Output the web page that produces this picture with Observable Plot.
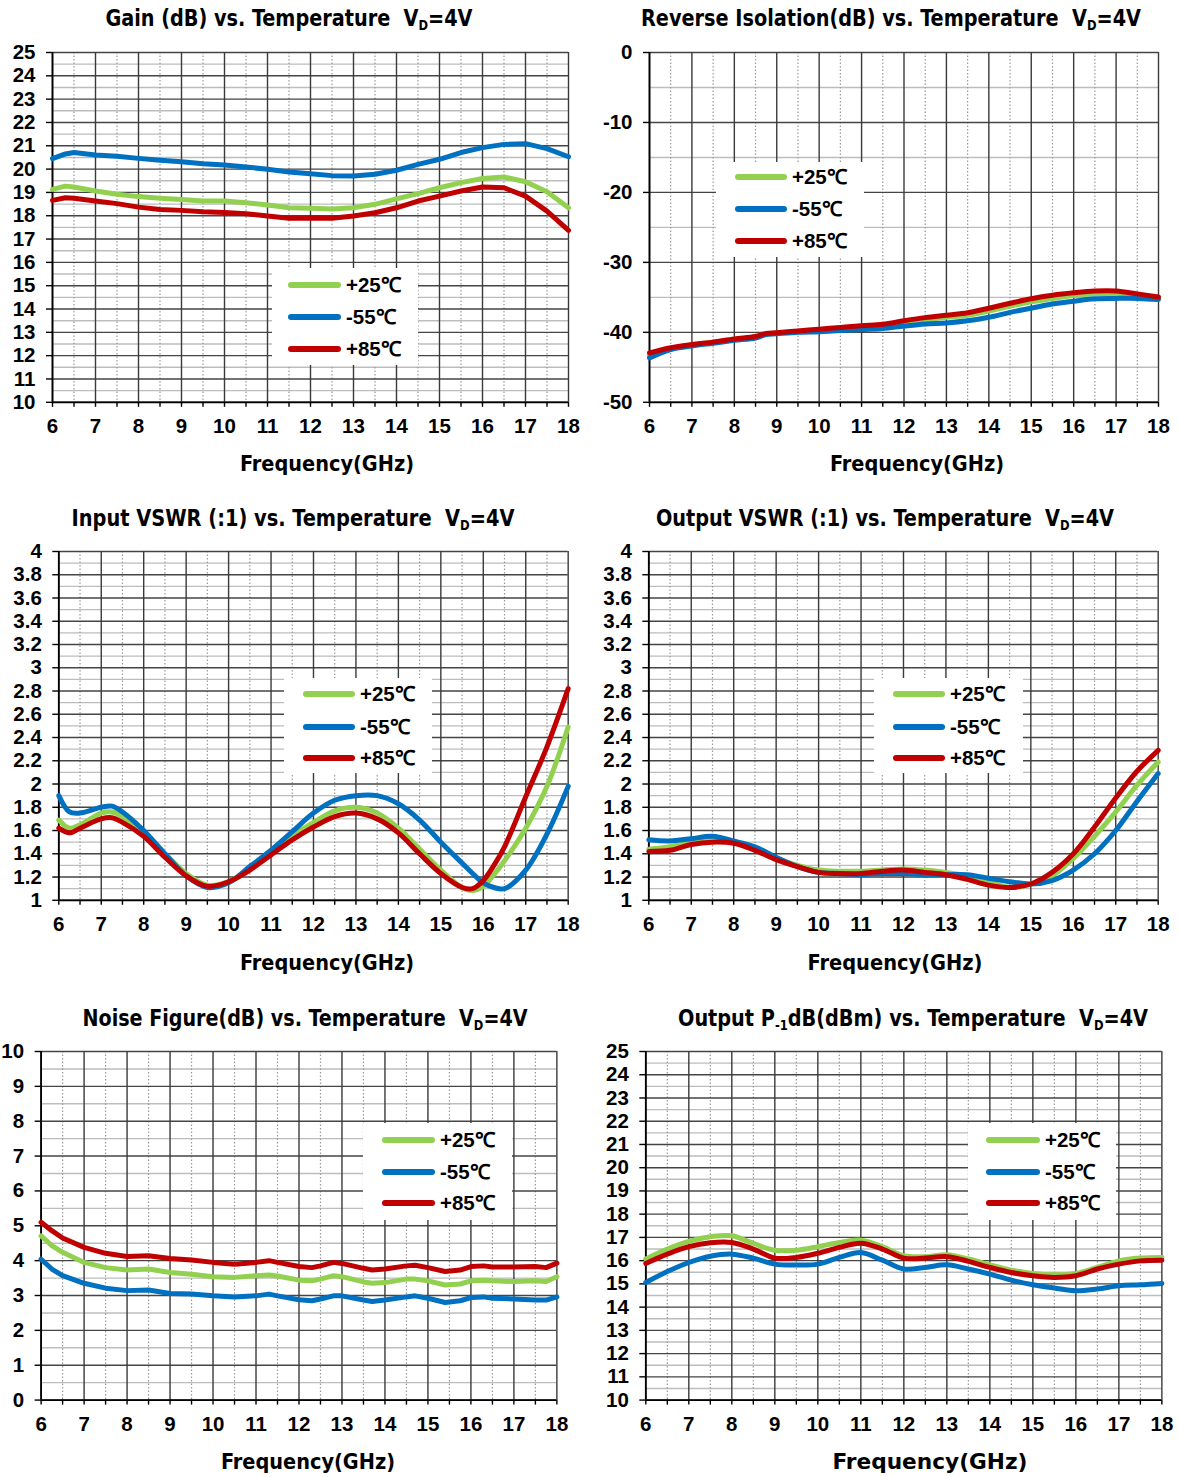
<!DOCTYPE html>
<html><head><meta charset="utf-8">
<script src="https://cdn.jsdelivr.net/npm/d3@7"></script>
<script src="https://cdn.jsdelivr.net/npm/@observablehq/plot@0.6"></script>
<style>
body{margin:0;background:#fff}
#root{position:relative;width:1179px;height:1477px;overflow:hidden;background:#fff}
.ttl{position:absolute;font-family:"DejaVu Sans Condensed","DejaVu Sans",sans-serif;font-weight:bold;white-space:nowrap;color:#000;line-height:1;transform-origin:50% 50%}
.sub{font-size:0.6em;vertical-align:-0.3em}
.leg{position:absolute;background:#fff}
.legline{position:absolute;height:6px;border-radius:3px}
.legtxt{position:absolute;font-family:"Liberation Sans",Arial,sans-serif;font-weight:700;font-size:20.5px;line-height:1;white-space:nowrap;transform:translateY(-50%);color:#000}
</style></head><body><div id="root"></div>
<script>
// ---------- shared ----------
const seriesLabels = ["+25℃", "-55℃", "+85℃"];
const seriesColors = ["#92D050", "#0070C0", "#C00000"];
const freqTicks = [6,7,8,9,10,11,12,13,14,15,16,17,18];
const freqMinor = [6.5,7.5,8.5,9.5,10.5,11.5,12.5,13.5,14.5,15.5,16.5,17.5];

// ---------- Gain ----------
const gainFreq = [6,6.3,6.5,7,7.5,8,8.5,9,9.5,10,10.5,11,11.5,12,12.5,13,13.5,14,14.5,15,15.5,16,16.5,17,17.5,18];
const gain25  = [19.13,19.27,19.23,19.06,18.92,18.82,18.75,18.70,18.63,18.63,18.56,18.46,18.34,18.32,18.29,18.34,18.49,18.72,18.95,19.20,19.42,19.60,19.66,19.46,19.03,18.34];
const gainM55 = [20.45,20.65,20.71,20.60,20.55,20.46,20.38,20.32,20.23,20.18,20.09,19.99,19.88,19.80,19.72,19.70,19.78,19.95,20.20,20.42,20.71,20.92,21.06,21.09,20.88,20.53];
const gain85  = [18.66,18.77,18.75,18.63,18.52,18.37,18.27,18.23,18.17,18.14,18.09,17.99,17.89,17.89,17.89,17.99,18.13,18.34,18.63,18.84,19.06,19.23,19.20,18.84,18.20,17.37];
const gainYTicks = [10,11,12,13,14,15,16,17,18,19,20,21,22,23,24,25];
const gainYMinor = [10.5,11.5,12.5,13.5,14.5,15.5,16.5,17.5,18.5,19.5,20.5,21.5,22.5,23.5,24.5];

// ---------- Reverse isolation ----------
const isoFreq = [6,6.5,7,7.5,8,8.5,8.75,9,9.5,10,10.5,11,11.5,12,12.5,13,13.5,14,14.5,15,15.5,16,16.5,17,17.5,18];
const iso25  = [-43.3,-42.3,-41.8,-41.45,-41.0,-40.65,-40.2,-40.1,-39.85,-39.65,-39.45,-39.25,-39.05,-38.55,-38.2,-37.85,-37.55,-36.95,-36.25,-35.65,-35.15,-34.75,-34.5,-34.6,-34.9,-35.15];
const isoM55 = [-43.65,-42.45,-41.95,-41.55,-41.15,-40.8,-40.3,-40.2,-40.0,-39.9,-39.75,-39.6,-39.45,-39.1,-38.8,-38.65,-38.35,-37.85,-37.15,-36.55,-35.95,-35.55,-35.2,-35.15,-35.15,-35.3];
const iso85  = [-42.94,-42.2,-41.75,-41.4,-40.95,-40.6,-40.15,-40.05,-39.8,-39.55,-39.3,-39.05,-38.85,-38.35,-37.9,-37.55,-37.2,-36.55,-35.85,-35.2,-34.7,-34.35,-34.1,-34.1,-34.5,-34.95];
const isoYTicks = [-50,-40,-30,-20,-10,0];
const isoYMinor = [-45,-35,-25,-15,-5];

// ---------- Input VSWR ----------
const inFreq = [6,6.25,6.5,7,7.25,7.5,8,8.5,9,9.5,10,10.5,11,11.5,12,12.5,13,13.5,14,14.5,15,15.5,15.75,16,16.25,16.5,17,17.5,18];
const in25  = [1.69,1.62,1.65,1.75,1.76,1.72,1.57,1.40,1.23,1.13,1.16,1.27,1.40,1.55,1.67,1.77,1.80,1.75,1.62,1.44,1.26,1.11,1.085,1.12,1.22,1.34,1.62,1.98,2.49];
const inM55 = [1.90,1.76,1.75,1.80,1.81,1.76,1.60,1.40,1.21,1.11,1.15,1.29,1.43,1.59,1.75,1.86,1.90,1.90,1.83,1.69,1.50,1.32,1.23,1.15,1.11,1.10,1.26,1.57,1.98];
const in85  = [1.62,1.58,1.62,1.70,1.71,1.67,1.55,1.37,1.21,1.12,1.16,1.26,1.39,1.52,1.63,1.72,1.75,1.70,1.58,1.40,1.23,1.11,1.10,1.17,1.30,1.46,1.89,2.32,2.82];

// ---------- Output VSWR ----------
const outFreq = [6,6.5,7,7.5,8,8.5,9,9.5,10,10.5,11,11.5,12,12.5,13,13.5,14,14.5,15,15.5,16,16.5,17,17.5,18];
const out25  = [1.44,1.46,1.50,1.53,1.50,1.44,1.36,1.30,1.26,1.25,1.25,1.26,1.27,1.26,1.24,1.21,1.16,1.11,1.14,1.21,1.36,1.55,1.76,1.99,2.19];
const outM55 = [1.52,1.51,1.53,1.55,1.51,1.46,1.37,1.29,1.24,1.23,1.22,1.23,1.23,1.22,1.22,1.22,1.19,1.16,1.14,1.17,1.26,1.40,1.60,1.85,2.09];
const out85  = [1.42,1.43,1.48,1.50,1.49,1.43,1.35,1.29,1.24,1.23,1.23,1.25,1.26,1.24,1.22,1.18,1.13,1.11,1.14,1.24,1.40,1.63,1.88,2.11,2.29];
const vswrYTicks = [1,1.2,1.4,1.6,1.8,2,2.2,2.4,2.6,2.8,3,3.2,3.4,3.6,3.8,4];
const vswrYMinor = [1.1,1.3,1.5,1.7,1.9,2.1,2.3,2.5,2.7,2.9,3.1,3.3,3.5,3.7,3.9];

// ---------- Noise figure ----------
const nfFreq = [6,6.25,6.5,7,7.5,8,8.5,9,9.5,10,10.5,11,11.3,11.5,12,12.3,12.5,12.8,13,13.5,13.7,14,14.5,14.7,15,15.4,15.75,16,16.3,16.5,17,17.5,17.75,18];
const nf25  = [4.71,4.43,4.24,3.95,3.80,3.73,3.76,3.66,3.61,3.54,3.52,3.57,3.59,3.56,3.44,3.42,3.47,3.57,3.54,3.39,3.35,3.37,3.47,3.47,3.42,3.30,3.33,3.42,3.44,3.42,3.40,3.42,3.40,3.54];
const nfM55 = [4.04,3.76,3.57,3.35,3.21,3.14,3.16,3.06,3.04,2.99,2.96,2.99,3.04,2.99,2.88,2.85,2.90,2.99,2.99,2.87,2.83,2.87,2.96,2.99,2.92,2.80,2.85,2.94,2.96,2.92,2.90,2.87,2.87,2.96];
const nf85  = [5.10,4.86,4.65,4.38,4.21,4.12,4.14,4.06,4.02,3.95,3.90,3.95,4.00,3.95,3.83,3.80,3.85,3.95,3.92,3.78,3.73,3.76,3.85,3.87,3.80,3.69,3.73,3.83,3.85,3.82,3.82,3.83,3.80,3.93];
const nfYTicks = [0,1,2,3,4,5,6,7,8,9,10];
const nfYMinor = [0.5,1.5,2.5,3.5,4.5,5.5,6.5,7.5,8.5,9.5];

// ---------- Output P-1dB ----------
const pFreq = [6,6.5,7,7.5,8,8.5,9,9.5,10,10.5,11,11.5,12,12.5,13,13.5,14,14.5,15,15.5,16,16.5,17,17.5,18];
const p25  = [16.07,16.50,16.83,17.03,17.07,16.74,16.45,16.45,16.60,16.78,16.88,16.60,16.21,16.17,16.25,16.07,15.82,15.59,15.45,15.39,15.45,15.71,15.99,16.11,16.14];
const pM55 = [15.06,15.53,15.92,16.19,16.28,16.11,15.85,15.81,15.85,16.14,16.35,16.02,15.64,15.71,15.82,15.64,15.42,15.16,14.96,14.82,14.70,14.78,14.92,14.96,15.02];
const p85  = [15.88,16.28,16.60,16.77,16.78,16.50,16.11,16.14,16.32,16.57,16.75,16.50,16.11,16.11,16.17,15.97,15.71,15.49,15.35,15.28,15.35,15.64,15.85,15.99,16.02];

const titles = [
  'Gain (dB) vs. Temperature&nbsp;&nbsp;V<span class="sub">D</span>=4V',
  'Reverse Isolation(dB) vs. Temperature&nbsp;&nbsp;V<span class="sub">D</span>=4V',
  'Input VSWR (:1) vs. Temperature&nbsp;&nbsp;V<span class="sub">D</span>=4V',
  'Output VSWR (:1) vs. Temperature&nbsp;&nbsp;V<span class="sub">D</span>=4V',
  'Noise Figure(dB) vs. Temperature&nbsp;&nbsp;V<span class="sub">D</span>=4V',
  'Output P<span class="sub">-1</span>dB(dBm) vs. Temperature&nbsp;&nbsp;V<span class="sub">D</span>=4V'
];
const xAxisLabel = "Frequency(GHz)";

// ---------- layout ----------
const panels = [
  {svgLeft:0, left:52, right:568, top:51.7, bottom:401.5, yDomain:[10,25], yTicks:gainYTicks, yMinor:gainYMinor,
   freq:gainFreq, vals:[gain25,gainM55,gain85], curve:"linear",
   title:titles[0], tX:288.5, tY:20, tW:367, lX:327, lY:464, lW:174, lFs:21.5,
   leg:{box:[272,268,418,365], lx:[288,341], ys:[285,317,349], tx:346}},
  {svgLeft:590, left:649, right:1158, top:51.7, bottom:401.5, yDomain:[-50,0], yTicks:isoYTicks, yMinor:isoYMinor,
   freq:isoFreq, vals:[iso25,isoM55,iso85], curve:"catmull-rom",
   title:titles[1], tX:891, tY:20, tW:500, lX:917, lY:464, lW:174, lFs:21.5,
   leg:{box:[716,162,864,257], lx:[735,787], ys:[177,209,241], tx:792}},
  {svgLeft:0, left:58.3, right:567.7, top:551.2, bottom:900, yDomain:[1,4], yTicks:vswrYTicks, yMinor:vswrYMinor,
   freq:inFreq, vals:[in25,inM55,in85], curve:"catmull-rom",
   title:titles[2], tX:292.5, tY:520, tW:443, lX:327, lY:963, lW:174, lFs:21.5,
   leg:{box:[284,678,432,773], lx:[303,355], ys:[694,727,758], tx:360}},
  {svgLeft:590, left:648.3, right:1157.7, top:551.2, bottom:900, yDomain:[1,4], yTicks:vswrYTicks, yMinor:vswrYMinor,
   freq:outFreq, vals:[out25,outM55,out85], curve:"catmull-rom",
   title:titles[3], tX:885, tY:520, tW:458, lX:895, lY:963, lW:175, lFs:21.5,
   leg:{box:[874,678,1023,773], lx:[893,945], ys:[694,727,758], tx:950}},
  {svgLeft:0, left:40.6, right:556.4, top:1050.7, bottom:1399.3, yDomain:[0,10], yTicks:nfYTicks, yMinor:nfYMinor,
   freq:nfFreq, vals:[nf25,nfM55,nf85], curve:"linear",
   title:titles[4], tX:304.5, tY:1020, tW:445, lX:308, lY:1462, lW:174, lFs:21.5,
   leg:{box:[363,1123,512,1220], lx:[382,435], ys:[1140,1172,1203], tx:440}},
  {svgLeft:590, left:645.3, right:1161.4, top:1050.7, bottom:1399.3, yDomain:[10,25], yTicks:gainYTicks, yMinor:gainYMinor,
   freq:pFreq, vals:[p25,pM55,p85], curve:"catmull-rom",
   title:titles[5], tX:913, tY:1020, tW:470, lX:930, lY:1462, lW:195, lFs:22,
   leg:{box:[968,1123,1116,1220], lx:[986,1040], ys:[1140,1172,1203], tx:1045}}
];

const root = document.getElementById("root");

function fitText(html, cx, cy, targetW, fs) {
  const el = document.createElement("div");
  el.className = "ttl";
  el.style.fontSize = fs + "px";
  el.innerHTML = html;
  el.style.left = cx + "px";
  el.style.top = cy + "px";
  root.appendChild(el);
  const w = el.getBoundingClientRect().width;
  const s = targetW / w;
  el.style.transform = `translate(-50%,-50%) scaleX(${s})`;
  return el;
}

for (const p of panels) {
  const mL = p.left - p.svgLeft, mT = 14, mR = 16, mB = 36;
  const W = mL + (p.right - p.left) + mR;
  const H = mT + (p.bottom - p.top) + mB;
  const rows = p.vals.flatMap((arr, si) => p.freq.map((f, i) => ({f, v: arr[i], s: seriesLabels[si]})));
  const svg = Plot.plot({
    width: W, height: H,
    marginLeft: mL, marginRight: mR, marginTop: mT, marginBottom: mB,
    x: {domain: [6, 18]},
    y: {domain: p.yDomain},
    color: {domain: seriesLabels, range: seriesColors},
    style: {fontFamily: '"Liberation Sans", Arial, sans-serif', fontSize: "20.5px", fontWeight: "700", color: "#000", background: "transparent", overflow: "visible"},
    marks: [
      Plot.gridY(p.yMinor, {stroke: "#bdbdbd", strokeOpacity: 1, strokeWidth: 1.4}),
      Plot.gridX(freqMinor, {stroke: "#9a9a9a", strokeOpacity: 1, strokeWidth: 1.2, strokeDasharray: "1.5,2"}),
      Plot.gridY(p.yTicks, {stroke: "#454545", strokeOpacity: 1, strokeWidth: 1.4}),
      Plot.gridX(freqTicks, {stroke: "#3a3a3a", strokeOpacity: 1, strokeWidth: 1.4}),
      Plot.ruleX([6], {stroke: "#000", strokeWidth: 1.8}),
      Plot.ruleY([p.yDomain[0]], {stroke: "#000", strokeWidth: 1.8}),
      Plot.axisX(freqTicks.concat(freqMinor), {tickSize: 5, tickPadding: 11, label: null, strokeWidth: 1.4,
        tickFormat: d => Number.isInteger(d) ? String(d) : ""}),
      Plot.axisY(p.yTicks, {tickSize: 6, tickPadding: 11, label: null, strokeWidth: 1.4, tickFormat: d => String(d)}),
      Plot.line(rows, {x: "f", y: "v", z: "s", stroke: "s", strokeWidth: 5, curve: p.curve, strokeLinejoin: "round", strokeLinecap: "round"})
    ]
  });
  svg.style.position = "absolute";
  svg.style.left = p.svgLeft + "px";
  svg.style.top = (p.top - mT) + "px";
  root.appendChild(svg);

  // legend box overlaid on the plot area
  const [bx0, by0, bx1, by1] = p.leg.box;
  const box = document.createElement("div");
  box.className = "leg";
  Object.assign(box.style, {left: bx0 + "px", top: by0 + "px", width: (bx1 - bx0) + "px", height: (by1 - by0) + "px"});
  root.appendChild(box);
  seriesLabels.forEach((lab, i) => {
    const ln = document.createElement("div");
    ln.className = "legline";
    Object.assign(ln.style, {left: p.leg.lx[0] + "px", top: (p.leg.ys[i] - 3) + "px", width: (p.leg.lx[1] - p.leg.lx[0]) + "px", background: seriesColors[i]});
    root.appendChild(ln);
    const tx = document.createElement("div");
    tx.className = "legtxt";
    tx.textContent = lab;
    Object.assign(tx.style, {left: p.leg.tx + "px", top: p.leg.ys[i] + "px"});
    root.appendChild(tx);
  });

  fitText(p.title, p.tX, p.tY, p.tW, 22.5);
  fitText(xAxisLabel, p.lX, p.lY, p.lW, p.lFs);
}
</script>
</body></html>
